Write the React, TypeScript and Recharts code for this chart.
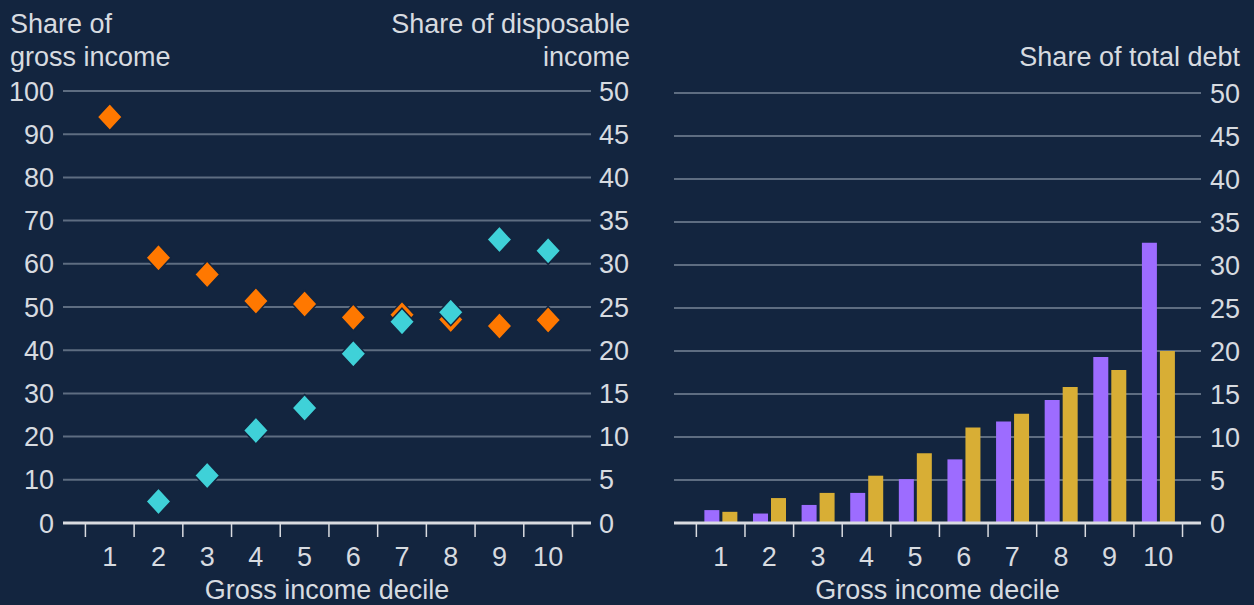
import React from 'react';
import {
  ScatterChart,
  Scatter,
  BarChart,
  Bar,
  XAxis,
  YAxis,
  CartesianGrid,
  Label,
} from 'recharts';

// Deciles 1..10
const deciles = [1, 2, 3, 4, 5, 6, 7, 8, 9, 10];

// Left panel: share of gross income (left axis, orange)
const grossIncomeShare = [94.0, 61.4, 57.5, 51.4, 50.7, 47.6, 48.2, 47.1, 45.6, 47.0];
// Left panel: share of disposable income (right axis, cyan), no value for decile 1
const disposableDeciles = [2, 3, 4, 5, 6, 7, 8, 9, 10];
const disposableIncomeShare = [2.5, 5.5, 10.7, 13.3, 19.6, 23.3, 24.4, 32.8, 31.5];

// Right panel: share of total debt
const debtSharePurple = [1.5, 1.1, 2.1, 3.5, 5.1, 7.4, 11.8, 14.3, 19.3, 32.6];
const debtShareGold = [1.3, 2.9, 3.5, 5.5, 8.1, 11.1, 12.7, 15.8, 17.8, 20.0];

const leftTicks = [0, 10, 20, 30, 40, 50, 60, 70, 80, 90, 100];
const rightTicks = [0, 5, 10, 15, 20, 25, 30, 35, 40, 45, 50];
const bandEdges = [0.5, 1.5, 2.5, 3.5, 4.5, 5.5, 6.5, 7.5, 8.5, 9.5, 10.5];

const BG = '#13253f';
const TEXT = '#d7dbe0';
const GRID = '#5e6d81';
const BASE = '#d9dbe0';
const ORANGE = '#ff7800';
const CYAN = '#3fd1d8';
const PURPLE = '#9d6cff';
const GOLD = '#d8ae35';
const FONT = '"Liberation Sans", Arial, sans-serif';
const X_DOMAIN: [number, number] = [0.04, 10.88];

const tickStyle = { fill: TEXT, fontSize: 27, fontFamily: FONT };

function Diamond(props: any) {
  const { cx, cy, fill } = props;
  if (cx == null || cy == null) return null;
  const w = 12.5;
  const h = 13.5;
  return (
    <polygon
      points={`${cx},${cy - h} ${cx + w},${cy} ${cx},${cy + h} ${cx - w},${cy}`}
      fill={fill}
      stroke={BG}
      strokeWidth={1.5}
    />
  );
}

const grossData = deciles.map((d, i) => ({ decile: d, value: grossIncomeShare[i] }));
const disposableData = disposableDeciles.map((d, i) => ({ decile: d, value: disposableIncomeShare[i] }));
const debtData = deciles.map((d, i) => ({ decile: d, purple: debtSharePurple[i], gold: debtShareGold[i] }));

const headerStyle: React.CSSProperties = {
  position: 'absolute',
  color: TEXT,
  fontSize: 27,
  lineHeight: '33px',
  fontFamily: FONT,
  whiteSpace: 'nowrap',
};

// tick marks sit between deciles, labels at the decile centres: two stacked axes
function tickAxis() {
  return (
    <XAxis
      xAxisId="axisTicks"
      type="number"
      dataKey="decile"
      domain={X_DOMAIN}
      ticks={bandEdges}
      allowDataOverflow
      tickFormatter={() => ''}
      tickSize={14}
      tickLine={{ stroke: BASE, strokeWidth: 1.5 }}
      axisLine={{ stroke: BASE, strokeWidth: 3 }}
      height={14}
    />
  );
}

function labelAxis() {
  return (
    <XAxis
      xAxisId="decileLabels"
      type="number"
      dataKey="decile"
      domain={X_DOMAIN}
      ticks={deciles}
      allowDataOverflow
      interval={0}
      axisLine={false}
      tickLine={false}
      tickSize={0}
      tickMargin={10}
      tick={tickStyle}
      height={68}
    >
      <Label value="Gross income decile" position="insideBottom" offset={6} style={tickStyle} />
    </XAxis>
  );
}

export default function App() {
  return (
    <div
      style={{
        position: 'fixed',
        left: 0,
        top: 0,
        width: 1254,
        height: 605,
        background: BG,
        overflow: 'hidden',
        fontFamily: FONT,
      }}
    >
      <div style={{ ...headerStyle, left: 10, top: 8 }}>
        Share of
        <br />
        gross income
      </div>
      <div style={{ ...headerStyle, right: 624, top: 8, textAlign: 'right' }}>
        Share of disposable
        <br />
        income
      </div>
      <div style={{ ...headerStyle, right: 14, top: 41, textAlign: 'right' }}>
        Share of total debt
      </div>

      <div style={{ position: 'absolute', left: 0, top: 0 }}>
        <ScatterChart width={640} height={605} margin={{ top: 91, right: 0, bottom: 0, left: 0 }}>
          <CartesianGrid xAxisId="axisTicks" yAxisId="left" vertical={false} stroke={GRID} strokeWidth={2} />
          {tickAxis()}
          {labelAxis()}
          <YAxis
            yAxisId="left"
            type="number"
            dataKey="value"
            domain={[0, 100]}
            ticks={leftTicks}
            interval={0}
            axisLine={false}
            tickLine={false}
            tickSize={0}
            tickMargin={9}
            tick={tickStyle}
            width={63}
          />
          <YAxis
            yAxisId="right"
            orientation="right"
            type="number"
            dataKey="value"
            domain={[0, 50]}
            ticks={rightTicks}
            interval={0}
            axisLine={false}
            tickLine={false}
            tickSize={0}
            tickMargin={8}
            tick={{ ...tickStyle, textAnchor: 'start' }}
            width={49}
          />
          <Scatter
            data={grossData}
            xAxisId="decileLabels"
            yAxisId="left"
            fill={ORANGE}
            shape={Diamond}
            isAnimationActive={false}
          />
          <Scatter
            data={disposableData}
            xAxisId="decileLabels"
            yAxisId="right"
            fill={CYAN}
            shape={Diamond}
            isAnimationActive={false}
          />
        </ScatterChart>
      </div>

      <div style={{ position: 'absolute', left: 640, top: 0 }}>
        <BarChart
          width={614}
          height={605}
          data={debtData}
          margin={{ top: 93, right: 0, bottom: 0, left: 34 }}
          barSize={15}
          barGap={3}
        >
          <CartesianGrid xAxisId="axisTicks" yAxisId="debt" vertical={false} stroke={GRID} strokeWidth={2} />
          <YAxis
            yAxisId="debt"
            orientation="right"
            type="number"
            domain={[0, 50]}
            ticks={rightTicks}
            interval={0}
            axisLine={false}
            tickLine={false}
            tickSize={0}
            tickMargin={9}
            tick={{ ...tickStyle, textAnchor: 'start' }}
            width={53}
          />
          <Bar dataKey="purple" xAxisId="decileLabels" yAxisId="debt" fill={PURPLE} isAnimationActive={false} />
          <Bar dataKey="gold" xAxisId="decileLabels" yAxisId="debt" fill={GOLD} isAnimationActive={false} />
          {tickAxis()}
          {labelAxis()}
        </BarChart>
      </div>
    </div>
  );
}
